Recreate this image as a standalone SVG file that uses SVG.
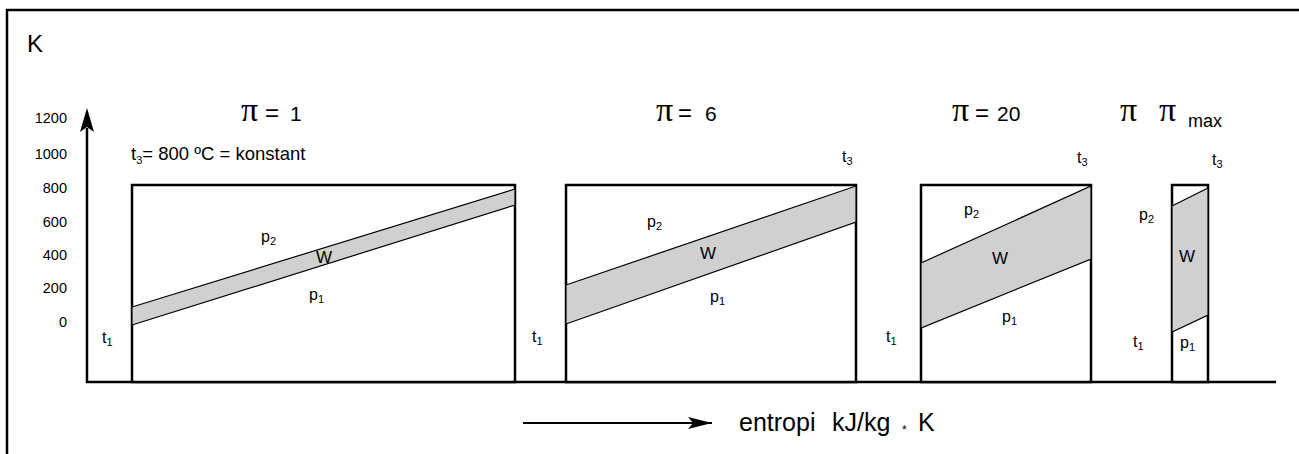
<svg xmlns="http://www.w3.org/2000/svg" width="1299" height="454" viewBox="0 0 1299 454">
<style>
.t{font-family:"Liberation Sans",Arial,sans-serif;fill:#000}
.lab{font-size:16px}
.sub{font-size:11px}
.w{font-size:17px}
.tick{font-size:14.5px;text-anchor:end}
.pi{font-family:"Liberation Serif","DejaVu Serif",serif;font-size:34px}
.eq{font-size:24px}
.num{font-size:21px}
.box{fill:#fff;stroke:#000;stroke-width:2.5}
.band{fill:#d0d0d0;stroke:#000;stroke-width:1.2}
.ax{stroke:#000;stroke-width:2.5;fill:none}
</style>
<defs>
<marker id="ah" markerWidth="24" markerHeight="12" refX="24" refY="6" orient="auto" markerUnits="userSpaceOnUse">
<path d="M0,0 L24,6 L0,12 L5,6 Z" fill="#000"/>
</marker>
</defs>
<rect x="0" y="0" width="1299" height="454" fill="#fff"/>
<rect x="7" y="10" width="1310" height="470" fill="none" stroke="#000" stroke-width="2.5"/>
<text class="t" x="27" y="52" font-size="24">K</text>
<g id="yaxis">
<text class="t tick" x="67" y="123">1200</text>
<text class="t tick" x="67" y="159">1000</text>
<text class="t tick" x="67" y="193">800</text>
<text class="t tick" x="67" y="227">600</text>
<text class="t tick" x="67" y="260">400</text>
<text class="t tick" x="67" y="293">200</text>
<text class="t tick" x="67" y="327">0</text>
</g>
<g id="connectors">
<line class="ax" x1="87" y1="383" x2="87" y2="128"/>
<path d="M87,108 L80,132 L87,127 L94,132 Z" fill="#000"/>
<line class="ax" x1="86" y1="382" x2="1276" y2="382"/>
<line x1="523" y1="423" x2="712" y2="423" stroke="#000" stroke-width="2" marker-end="url(#ah)"/>
</g>
<text class="t" x="131" y="160" font-size="18.5">t<tspan class="sub" dy="4">3</tspan><tspan dy="-4">= 800 ºC = konstant</tspan></text>
<g id="box1">
<rect class="box" x="132" y="185" width="383" height="197"/>
<polygon class="band" points="132,307 515,189 515,205 132,325"/>
<text class="t" y="121"><tspan class="pi" x="241">π</tspan><tspan class="eq" x="265">=</tspan><tspan class="num" x="290">1</tspan></text>
<text class="t lab" x="261" y="242">p<tspan class="sub" dy="3">2</tspan></text>
<text class="t w" x="324" y="263" text-anchor="middle">W</text>
<text class="t lab" x="309" y="300">p<tspan class="sub" dy="3">1</tspan></text>
<text class="t lab" x="102" y="343">t<tspan class="sub" dy="3">1</tspan></text>
</g>
<g id="box2">
<rect class="box" x="566" y="185" width="290" height="197"/>
<polygon class="band" points="566,285 856,186 856,222 566,324"/>
<text class="t" y="121"><tspan class="pi" x="656">π</tspan><tspan class="eq" x="678">=</tspan><tspan class="num" x="705">6</tspan></text>
<text class="t lab" x="647" y="227">p<tspan class="sub" dy="3">2</tspan></text>
<text class="t w" x="708" y="259" text-anchor="middle">W</text>
<text class="t lab" x="710" y="302">p<tspan class="sub" dy="3">1</tspan></text>
<text class="t lab" x="532" y="342">t<tspan class="sub" dy="3">1</tspan></text>
<text class="t lab" x="842" y="162">t<tspan class="sub" dy="3">3</tspan></text>
</g>
<g id="box3">
<rect class="box" x="921" y="185" width="170" height="197"/>
<polygon class="band" points="921,263 1091,186 1091,259 921,328"/>
<text class="t" y="121"><tspan class="pi" x="952">π</tspan><tspan class="eq" x="975">=</tspan><tspan class="num" x="997">20</tspan></text>
<text class="t lab" x="964" y="215">p<tspan class="sub" dy="3">2</tspan></text>
<text class="t w" x="1000" y="264" text-anchor="middle">W</text>
<text class="t lab" x="1002" y="322">p<tspan class="sub" dy="3">1</tspan></text>
<text class="t lab" x="886" y="342">t<tspan class="sub" dy="3">1</tspan></text>
<text class="t lab" x="1077" y="163">t<tspan class="sub" dy="3">3</tspan></text>
</g>
<g id="box4">
<rect class="box" x="1172" y="185" width="36" height="197"/>
<polygon class="band" points="1172,206 1208,188 1208,315 1172,332"/>
<text class="t pi" x="1120" y="121">π</text>
<text class="t pi" x="1159" y="121">π</text>
<text class="t" x="1188" y="127" font-size="18">max</text>
<text class="t lab" x="1139" y="220">p<tspan class="sub" dy="3">2</tspan></text>
<text class="t w" x="1187" y="262" text-anchor="middle">W</text>
<text class="t lab" x="1180" y="348">p<tspan class="sub" dy="3">1</tspan></text>
<text class="t lab" x="1133" y="347">t<tspan class="sub" dy="3">1</tspan></text>
<text class="t lab" x="1212" y="165">t<tspan class="sub" dy="3">3</tspan></text>
</g>
<text class="t" y="431" font-size="25"><tspan x="739">entropi</tspan><tspan x="832">kJ/kg</tspan><tspan x="902" dy="3" font-size="12">*</tspan><tspan x="918" dy="-3">K</tspan></text>
</svg>
